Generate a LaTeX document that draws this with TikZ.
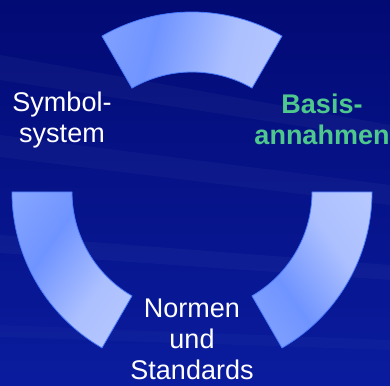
\documentclass[tikz,border=0pt]{standalone}
\usepackage{fontspec}
\setmainfont{Liberation Sans}
\definecolor{bgtop}{RGB}{2,10,116}
\definecolor{bgbot}{RGB}{10,28,158}
\definecolor{segA}{RGB}{150,178,255}
\definecolor{segB}{RGB}{112,148,255}
\definecolor{segC}{RGB}{172,192,255}
\definecolor{segD}{RGB}{192,207,255}
\definecolor{segline}{RGB}{72,122,255}
\definecolor{basisgreen}{RGB}{78,200,140}
\pgfdeclarehorizontalshading{arcshade}{100bp}{color(0bp)=(segA); color(38bp)=(segB); color(62bp)=(segC); color(100bp)=(segD)}
\begin{document}
\begin{tikzpicture}[x=1pt,y=1pt,
  arcseg/.style={draw=segline, line width=0.8pt, shading=arcshade},
  lbl/.style={align=center, font=\fontsize{27}{31}\selectfont, text=white, inner sep=0pt}]
% background
\shade[top color=bgtop, bottom color=bgbot] (0,0) rectangle (390,385);
\useasboundingbox (0,0) rectangle (390,385);
% faint diagonal streaks
\fill[white, opacity=0.035] (0,330) -- (390,260) -- (390,245) -- (0,305) -- cycle;
\fill[white, opacity=0.03] (0,250) -- (390,200) -- (390,180) -- (0,228) -- cycle;
\fill[white, opacity=0.03] (0,150) -- (390,120) -- (390,105) -- (0,132) -- cycle;
\fill[white, opacity=0.025] (0,60) -- (390,45) -- (390,35) -- (0,48) -- cycle;
% ring segments
\coordinate (c) at (192,193);
\shadedraw[arcseg, shading angle=-15]
  ([shift={(60:180pt)}]c) arc[start angle=60,end angle=120,radius=180pt]
  -- ([shift={(120:120pt)}]c) arc[start angle=120,end angle=60,radius=120pt] -- cycle;
\shadedraw[arcseg, shading angle=-35]
  ([shift={(180:180pt)}]c) arc[start angle=180,end angle=240,radius=180pt]
  -- ([shift={(240:120pt)}]c) arc[start angle=240,end angle=180,radius=120pt] -- cycle;
\shadedraw[arcseg, shading angle=35]
  ([shift={(300:180pt)}]c) arc[start angle=300,end angle=360,radius=180pt]
  -- ([shift={(360:120pt)}]c) arc[start angle=360,end angle=300,radius=120pt] -- cycle;
% labels
\node[lbl] (sym) at (62,264.5) {Symbol-\\system};
\node[lbl, text=basisgreen, font=\fontsize{27}{31}\selectfont\bfseries] (bas) at (322,266) {Basis-\\annahmen};
\node[lbl] (norm) at (192,45.6) {Normen\\und\\Standards};
\end{tikzpicture}
\end{document}
